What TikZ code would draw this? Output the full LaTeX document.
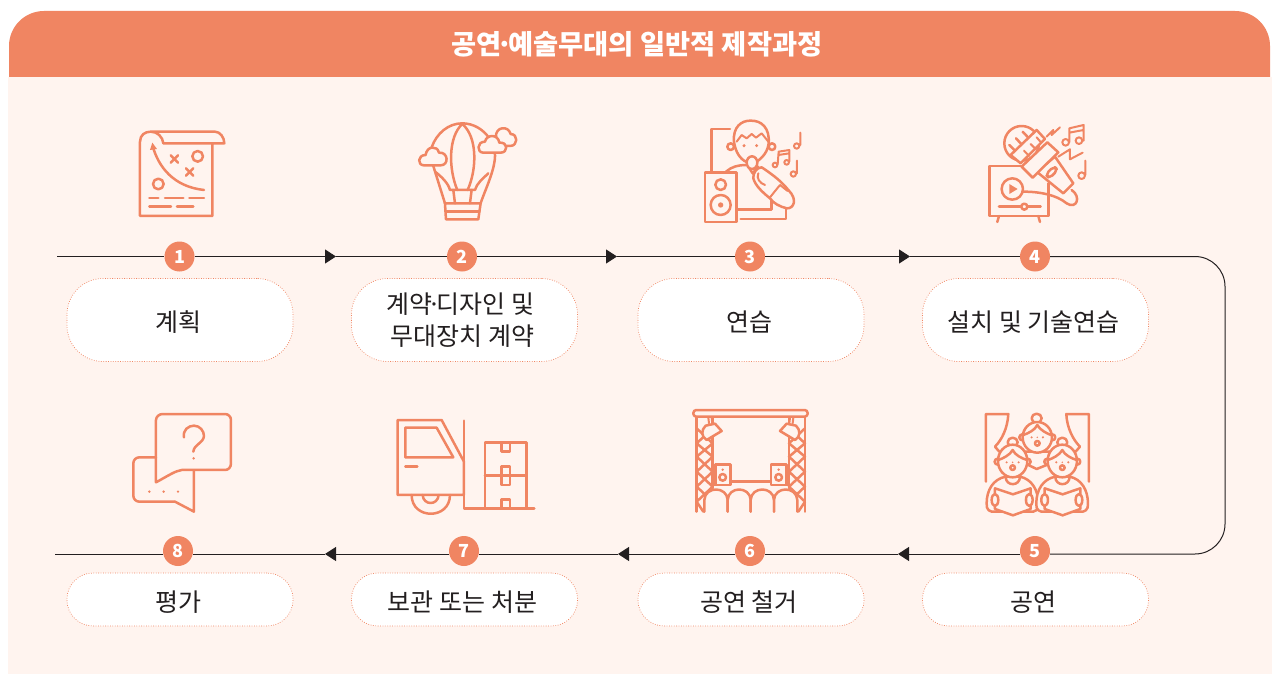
\documentclass[tikz,border=0pt]{standalone}
\usepackage{fontspec}
\setmainfont{Noto Sans CJK KR}
\usetikzlibrary{arrows.meta}
\definecolor{salmon}{HTML}{F08562}
\definecolor{cream}{HTML}{FFF4EF}
\definecolor{ink}{HTML}{231F20}
\tikzset{
  icon/.style={draw=salmon, line width=2.5pt, line cap=round, line join=round},
  thinicon/.style={icon, line width=2pt},
  flow/.style={draw=ink, line width=1pt},
  flowarrow/.style={flow, -{Triangle[length=11pt,width=14pt]}},
  numdot/.style={circle, fill=salmon, text=white, minimum size=30pt, inner sep=0pt, font=\fontsize{18}{18}\selectfont\bfseries},
  pill/.style={draw=salmon, line width=0.7pt, dash pattern=on 0.8pt off 1.6pt, fill=white, rounded corners=36pt, minimum width=226pt, minimum height=83pt, inner sep=0pt, align=center, text=ink, font=\fontsize{25}{32}\selectfont, execute at begin node={\rule{0pt}{25pt}}, execute at end node={\kern4pt}},
  lowpill/.style={pill, rounded corners=26pt, minimum height=53pt},
  singer/.pic={
    % body
    \draw[icon, fill=cream] (905,295) .. controls (905,255) and (925,222) .. (962,215) -- (1005,215) .. controls (1040,222) and (1060,255) .. (1060,295) .. controls (1062,315) and (1050,322) .. (1035,320) -- (930,320) .. controls (915,322) and (903,315) .. (905,295) -- cycle;
    % book
    \draw[icon, fill=cream] (930,250) -- (984,268) -- (1037,250) -- (1037,312) -- (984,331) -- (930,312) -- cycle;
    \draw[icon, fill=cream] (930,285) ellipse (10 and 18);
    \draw[icon, fill=cream] (1033,285) ellipse (10 and 18);
    \draw[icon] (962,215) .. controls (962,245) and (1005,245) .. (1005,215);
    % head
    \draw[icon, fill=cream] (983,112) ellipse (15 and 14);
    \draw[icon, fill=cream] (938,170) circle (9);
    \draw[icon, fill=cream] (1028,170) circle (9);
    \draw[icon, fill=cream] (983,168) ellipse (44 and 49);
    \draw[icon] (940,165) .. controls (955,160) and (975,150) .. (983,135) .. controls (990,150) and (1010,160) .. (1026,165);
    \fill[salmon] (965,172) circle (3.5) (1001,172) circle (3.5) (983,172) circle (2.5);
    \draw[icon] (983,188) circle (7);
  },
}
\begin{document}
\begin{tikzpicture}[x=1pt,y=-1pt]
  \useasboundingbox (0,0) rectangle (1274,674);
  \fill[white] (0,0) rectangle (1274,674);
  %encabezado
  \fill[salmon, rounded corners=35pt] (9,11) rectangle (1270,120);
  \fill[cream] (8,77) rectangle (1272,674);
  \node[text=white, font=\fontsize{27.3}{27.3}\selectfont\bfseries] (title) at (637,44) {공연\kern-5pt·\kern-5pt예술무대의 일반적 제작과정};

  %numeros
  \node[numdot] (n1) at (179.5,256.5) {1};
  \node[numdot] (n2) at (462,256.5) {2};
  \node[numdot] (n3) at (750,256.5) {3};
  \node[numdot] (n4) at (1035,256.5) {4};
  \node[numdot] (n5) at (1035,551) {5};
  \node[numdot] (n6) at (750,551) {6};
  \node[numdot] (n7) at (464,551) {7};
  \node[numdot] (n8) at (178,551) {8};

  %linea de arriba
  \coordinate (start) at (57,256.5);
  \coordinate (tip1) at (336,256.5);
  \coordinate (tip2) at (617,256.5);
  \coordinate (tip3) at (910,256.5);
  \coordinate (corner1) at (1225,256.5);
  \draw[flow] (start) -- (n1);
  \draw[flowarrow] (n1) -- (tip1);
  \draw[flow] (tip1) -- (n2);
  \draw[flowarrow] (n2) -- (tip2);
  \draw[flow] (tip2) -- (n3);
  \draw[flowarrow] (n3) -- (tip3);
  \draw[flow] (tip3) -- (n4);
  %linea de abajo
  \coordinate (corner2) at (1225,554);
  \coordinate (tip5) at (898,554);
  \coordinate (tip6) at (618,554);
  \coordinate (tip7) at (325,554);
  \coordinate (end) at (55,554);
  \draw[flow, rounded corners=30pt] (n4) -- (corner1) -- (corner2) -- (n5.east |- corner2);
  \draw[flowarrow] (n5.west |- tip5) -- (tip5);
  \draw[flow] (tip5) -- (n6.east |- tip5);
  \draw[flowarrow] (n6.west |- tip5) -- (tip6);
  \draw[flow] (tip6) -- (n7.east |- tip5);
  \draw[flowarrow] (n7.west |- tip5) -- (tip7);
  \draw[flow] (tip7) -- (n8.east |- tip5);
  \draw[flow] (n8.west |- tip5) -- (end);

  %etiquetas
  \node[pill] (plan) at (180,320) {계획};
  \node[pill] (design) at (464.5,320) {계약\kern-5pt·\kern-5pt디자인 및\kern4pt\\무대장치 계약};
  \node[pill] (practice) at (751,320) {연습};
  \node[pill] (setup) at (1035.5,320) {설치 및 기술연습};
  \node[lowpill] (eval) at (180,599.5) {평가};
  \node[lowpill] (store) at (464.5,599.5) {보관 또는 처분};
  \node[lowpill] (remove) at (751,599.5) {공연 철거};
  \node[lowpill] (show) at (1035.5,599.5) {공연};

  %mapa y globo
  \begin{scope}[shift={(120,110)}, x=0.3333pt, y=-0.3333pt]
    \draw[icon] (277,100) -- (277,318) -- (60,318) -- (60,95) .. controls (60,75) and (75,65) .. (92,65) -- (285,65) .. controls (300,65) and (313,82) .. (313,100) -- (130,100) .. controls (128,80) and (112,65) .. (92,65);
    \draw[icon] (252,240) .. controls (160,230) and (115,170) .. (98,108);
    \fill[salmon] (90,120) -- (97,98) -- (111,117) -- cycle;
    \draw[icon] (152,136) -- (174,158) (174,136) -- (152,158);
    \draw[icon] (198,175) -- (220,197) (220,175) -- (198,197);
    \draw[icon] (233,139) circle (16);
    \draw[icon] (115,222) circle (16);
    \draw[icon] (88,264) -- (115,264) (135,264) -- (190,264) (208,264) -- (252,264);
    \draw[icon] (88,290) -- (153,290) (171,290) -- (220,290);
    %globo
    \draw[icon] (935,112) .. controls (950,70) and (985,40) .. (1027,40) .. controls (1060,40) and (1090,58) .. (1108,85);
    \draw[icon] (1125,130) .. controls (1128,175) and (1095,240) .. (1082,280);
    \draw[icon] (940,168) -- (975,280);
    \draw[icon] (1027,42) .. controls (985,80) and (985,175) .. (1012,240);
    \draw[icon] (1027,42) .. controls (1072,80) and (1072,175) .. (1043,240);
    \draw[icon] (945,185) .. controls (965,200) and (985,220) .. (990,240) -- (1065,240) .. controls (1070,220) and (1090,205) .. (1105,190);
    \draw[icon] (1000,240) -- (1005,280) (1055,240) -- (1050,280);
    \draw[icon] (975,280) -- (1082,280) -- (1075,328) -- (978,328) -- cycle;
    \draw[icon] (977,305) -- (1078,305);
    \draw[icon, fill=cream] (912,166) .. controls (892,166) and (892,135) .. (917,135) .. controls (920,108) and (952,105) .. (957,128) .. controls (985,125) and (988,166) .. (962,166) -- cycle;
    \draw[icon, fill=cream] (1128,82) .. controls (1125,50) and (1165,45) .. (1172,72) .. controls (1195,72) and (1195,108) .. (1170,108) -- (1140,108) -- cycle;
    \draw[icon, fill=cream] (1090,128) .. controls (1070,128) and (1070,95) .. (1095,95) .. controls (1100,72) and (1135,72) .. (1138,98) .. controls (1165,95) and (1165,128) .. (1142,128) -- cycle;
  \end{scope}

  %cantante y microfono
  \begin{scope}[shift={(690,110)}, x=0.3333pt, y=-0.3333pt]
    \draw[icon] (120,57) -- (65,57) -- (65,185);
    \draw[icon] (108,185) .. controls (125,170) and (145,165) .. (168,165);
    \draw[icon] (140,298) -- (245,298) -- (245,265);
    \draw[icon] (152,327) -- (288,327) -- (288,298);
    \draw[icon] (45,187) rectangle (140,336);
    \draw[icon] (92,224) circle (16);
    \draw[icon] (92,285) circle (30);
    \fill[salmon] (92,285) circle (8);
    \draw[icon] (122,110) circle (10) (246,110) circle (10);
    \draw[icon, fill=cream] (132,95) .. controls (128,50) and (155,32) .. (180,32) .. controls (215,30) and (240,55) .. (236,100) .. controls (232,135) and (205,152) .. (195,158) -- (170,156) .. controls (150,148) and (136,125) .. (132,95) -- cycle;
    \draw[thinicon] (140,95) -- (155,75) -- (170,85) -- (185,72) -- (198,83) -- (215,70) -- (235,95);
    \fill[salmon] (162,107) circle (5) (200,107) circle (5);
    \draw[icon, fill=cream] (215,172) .. controls (250,195) and (275,215) .. (295,240) .. controls (325,270) and (310,297) .. (290,295) .. controls (270,290) and (250,280) .. (240,265) .. controls (215,245) and (195,225) .. (190,205) .. controls (188,190) and (200,172) .. (215,172) -- cycle;
    \draw[thinicon] (240,262) -- (270,225) (270,225) -- (293,243);
    \draw[thinicon] (205,190) .. controls (198,205) and (210,220) .. (225,225);
    \draw[icon, fill=cream] (175,170) -- (188,190) -- (205,170);
    \draw[icon, fill=cream] (186,158) ellipse (16 and 19);
    %notas
    \draw[thinicon] (255,165) circle (7) (290,157) circle (7);
    \draw[thinicon] (263,163) -- (266,125) -- (298,120) -- (298,155) (265,135) -- (298,130);
    \draw[thinicon] (320,108) circle (8) (331,105) -- (331,68);
    \draw[thinicon] (310,192) circle (8) (321,190) -- (321,152);
    %microfono
    \draw[icon] (1000,168) -- (898,168) -- (898,318) -- (1075,318) -- (1075,220);
    \draw[icon] (927,318) -- (922,336) (1045,318) -- (1050,336);
    \draw[icon] (967,237) circle (32);
    \fill[salmon] (958,222) -- (958,252) -- (983,237) -- cycle;
    \draw[icon] (927,290) -- (992,290) (1014,290) -- (1052,290);
    \draw[icon] (1003,290) circle (9);
    \draw[icon] (1000,245) .. controls (1050,245) and (1100,255) .. (1130,280) .. controls (1160,300) and (1175,260) .. (1145,240);
    \draw[icon, fill=cream] (995,100) circle (52);
    \draw[icon] (958,105) -- (975,122) (978,85) -- (995,103) (998,65) -- (1015,83);
    \draw[icon, fill=cream] (1095,140) -- (1150,220) -- (1120,250) -- (1040,185) -- cycle;
    \draw[icon, fill=cream, rounded corners=4pt, rotate around={45:(1085,187)}] (1067,179) rectangle (1103,195);
    \draw[icon, fill=cream] (1040,60) -- (1065,87) -- (992,160) -- (962,135) -- cycle;
    \draw[thinicon] (1002,122) -- (1018,138) (1022,102) -- (1038,118) (1040,82) -- (1053,97);
    \draw[icon, fill=cream] (1072,97) -- (1105,127) -- (1028,203) -- (995,170) -- cycle;
    \draw[thinicon] (1070,80) -- (1090,60) -- (1085,75) -- (1110,52);
    \draw[thinicon] (1105,140) -- (1140,118) -- (1140,148) -- (1178,128);
    \draw[thinicon] (1127,97) circle (10) (1167,92) circle (10);
    \draw[thinicon] (1138,97) -- (1138,55) -- (1181,45) -- (1181,92) (1138,68) -- (1181,60);
    \draw[thinicon] (1175,197) circle (10) (1186,195) -- (1186,152);
  \end{scope}

  %preguntas y camion
  \begin{scope}[shift={(120,405)}, x=0.3333pt, y=-0.3333pt]
    \draw[icon, rounded corners=6pt] (108,157) -- (40,157) -- (40,290) -- (165,290);
    \draw[icon] (165,290) -- (222,320) -- (222,197);
    \fill[salmon] (88,260) circle (4) (131,260) circle (4) (174,260) circle (4);
    \draw[icon] (108,232) -- (108,45) .. controls (108,35) and (118,27) .. (128,27) -- (315,27) .. controls (325,27) and (333,35) .. (333,45) -- (333,175) .. controls (333,187) and (325,195) .. (315,195) -- (185,195) .. controls (165,198) and (145,212) .. (108,232) -- cycle;
    \draw[icon] (192,97) .. controls (188,75) and (205,62) .. (222,62) .. controls (240,62) and (252,78) .. (252,93) .. controls (250,115) and (222,118) .. (220,140);
    \fill[salmon] (221,160) circle (4);
    %camion
    \draw[icon] (833,270) -- (833,45) -- (965,45) -- (1032,170) -- (1032,270) -- cycle;
    \draw[icon] (856,68) -- (950,68) -- (1000,157) -- (856,157) -- cycle;
    \draw[icon] (856,185) -- (892,185);
    \draw[icon] (875,270) .. controls (875,345) and (990,345) .. (990,270);
    \draw[icon] (908,270) .. controls (910,302) and (954,302) .. (956,270);
    \draw[icon] (1032,47) -- (1032,310) -- (1243,310);
    \draw[icon] (1095,310) -- (1095,113) -- (1220,113) -- (1220,310) (1095,212) -- (1220,212);
    \draw[icon] (1145,113) -- (1145,140) -- (1170,140) -- (1170,113);
    \draw[icon] (1145,185) rectangle (1170,240);
    \draw[icon] (1145,310) -- (1145,284) -- (1170,284) -- (1170,310);
  \end{scope}

  %escenario y coro
  \begin{scope}[shift={(685,405)}, x=0.3333pt, y=-0.3333pt]
    \draw[icon] (35,35) -- (35,320) (83,35) -- (83,250) (360,35) -- (360,320) (312,35) -- (312,250);
    \draw[icon] (35,70) -- (83,115) -- (35,155) -- (83,200) -- (35,245) -- (83,290);
    \draw[icon] (83,70) -- (35,115) -- (83,155) -- (35,200) -- (83,245) -- (35,290) -- (55,320);
    \draw[icon] (360,70) -- (312,115) -- (360,155) -- (312,200) -- (360,245) -- (312,290);
    \draw[icon] (312,70) -- (360,115) -- (312,155) -- (360,200) -- (312,245) -- (360,290) -- (340,320);
    \draw[icon] (83,240) -- (92,240) (312,240) -- (302,240);
    \draw[icon, fill=cream] (58,320) -- (58,285) .. controls (60,243) and (126,243) .. (128,285) -- (128,320);
    \draw[icon, fill=cream] (128,320) -- (128,285) .. controls (130,243) and (195,243) .. (197,285) -- (197,320);
    \draw[icon, fill=cream] (197,320) -- (197,285) .. controls (199,243) and (265,243) .. (267,285) -- (267,320);
    \draw[icon, fill=cream] (267,320) -- (267,285) .. controls (269,243) and (335,243) .. (337,285) -- (337,320);
    \draw[icon, rounded corners=3pt, fill=cream] (25,15) rectangle (368,35);
    \draw[thinicon] (70,38) -- (72,55) (80,38) -- (82,55) (325,38) -- (323,55) (315,38) -- (313,55);
    \draw[icon, fill=cream] (62,62) -- (90,56) -- (110,78) -- (65,105) .. controls (48,95) and (48,75) .. (62,62) -- cycle;
    \draw[icon, fill=cream] (333,62) -- (305,56) -- (285,78) -- (330,105) .. controls (347,95) and (347,75) .. (333,62) -- cycle;
    \draw[icon, line width=2.8pt] (137,230) -- (258,230);
    \draw[icon, fill=cream] (91,178) rectangle (137,240);
    \draw[icon] (113,217) circle (10);
    \fill[salmon] (113,194) circle (4);
    \draw[icon, fill=cream] (258,178) rectangle (304,240);
    \draw[icon] (281,217) circle (10);
    \fill[salmon] (281,194) circle (4);
    %telon
    \draw[icon] (903,230) -- (903,27) -- (970,27) .. controls (968,70) and (950,105) .. (930,125) -- (943,140);
    \draw[icon] (1212,230) -- (1212,27) -- (1144,27) .. controls (1146,70) and (1165,105) .. (1185,125) -- (1172,140);
    %coro de atras
    \draw[icon, fill=cream] (1020,140) -- (1030,180) -- (1055,192) -- (1085,180) -- (1095,140) -- cycle;
    \draw[icon, fill=cream] (1055,40) ellipse (15 and 14);
    \draw[icon, fill=cream] (1012,97) circle (9) (1102,97) circle (9);
    \draw[icon, fill=cream] (1057,97) ellipse (44 and 46);
    \draw[icon] (1015,90) .. controls (1030,85) and (1050,75) .. (1057,60) .. controls (1065,75) and (1085,85) .. (1098,90);
    \fill[salmon] (1040,97) circle (3.5) (1074,97) circle (3.5) (1057,97) circle (2.5);
    \draw[icon] (1057,115) circle (7);
    \pic at (0,0) {singer};
    \pic at (149,0) {singer};
  \end{scope}
\end{tikzpicture}
\end{document}
